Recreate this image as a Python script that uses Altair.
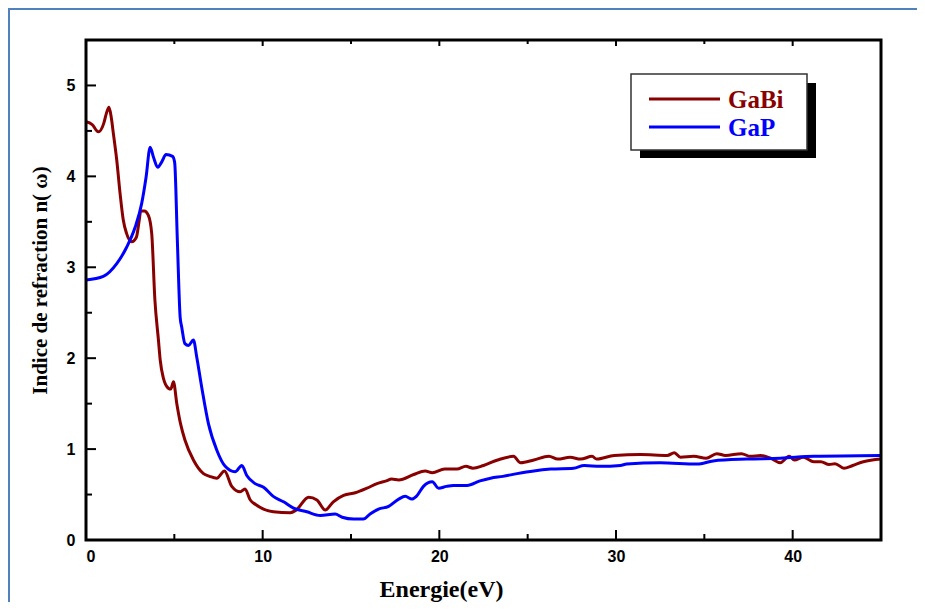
import altair as alt
import pandas as pd

# ---------------- data ----------------
series_names = ["GaBi", "GaP"]
series_colors = ["#880000", "#0000FF"]

gabi_e = [0, 0.35, 0.7, 1.0, 1.15, 1.3, 1.42, 1.55, 1.74, 1.93, 2.11, 2.3, 2.59, 2.85, 3.0, 3.1,
          3.3, 3.53, 3.72, 3.9, 4.1, 4.2, 4.38, 4.66, 4.8, 4.95, 5.14, 5.35, 5.6, 6.08, 6.65, 7.0,
          7.4, 7.84, 8.25, 8.73, 9.0, 9.3, 9.6, 10.05, 10.6, 11.56, 11.9, 12.6, 13.07, 13.54, 14.0,
          14.58, 15.24, 15.9, 16.47, 17.0, 17.3, 17.7, 18.55, 19.2, 19.6, 20.3, 21.0, 21.5, 21.9,
          22.5, 23.3, 24.2, 24.6, 25.35, 26.2, 26.7, 27.4, 28.0, 28.65, 28.9, 29.9, 31.4, 32.9,
          33.3, 33.65, 34.4, 35.1, 35.7, 36.2, 37.1, 37.6, 38.2, 38.75, 39.3, 39.8, 40.1, 40.6,
          41.2, 41.6, 42.06, 42.4, 42.9, 43.4, 44.0, 45.0]
gabi_n = [4.60, 4.57, 4.49, 4.58, 4.69, 4.76, 4.66, 4.47, 4.18, 3.81, 3.52, 3.37, 3.28, 3.33, 3.50, 3.62,
          3.62, 3.57, 3.37, 2.64, 2.20, 1.98, 1.78, 1.67, 1.66, 1.74, 1.50, 1.28, 1.10, 0.88, 0.73, 0.70,
          0.68, 0.76, 0.59, 0.53, 0.56, 0.44, 0.39, 0.34, 0.31, 0.30, 0.33, 0.47, 0.44, 0.33, 0.42,
          0.49, 0.52, 0.57, 0.62, 0.65, 0.67, 0.66, 0.72, 0.76, 0.74, 0.78, 0.78, 0.81, 0.79,
          0.82, 0.88, 0.92, 0.85, 0.88, 0.92, 0.89, 0.91, 0.89, 0.92, 0.89, 0.93, 0.94, 0.93,
          0.96, 0.91, 0.92, 0.90, 0.95, 0.93, 0.95, 0.92, 0.93, 0.90, 0.85, 0.92, 0.88, 0.91,
          0.86, 0.86, 0.83, 0.84, 0.79, 0.82, 0.86, 0.89]

gap_e = [0, 0.98, 1.74, 2.3, 2.78, 3.15, 3.4, 3.63, 3.82, 4.06, 4.29, 4.53, 4.9, 5.02, 5.17, 5.33,
         5.42, 5.6, 5.8, 6.08, 6.27, 6.55, 6.93, 7.4, 7.88, 8.44, 8.82, 9.1, 9.57, 10.05, 10.6,
         11.18, 11.75, 12.5, 13.26, 14.1, 14.5, 15.15, 15.7, 16.1, 16.56, 17.13, 17.7, 18.07,
         18.45, 18.7, 19.1, 19.6, 19.96, 20.4, 20.8, 21.57, 22.3, 22.9, 23.6, 24.4, 25.35, 26.3,
         27.6, 28.2, 29.1, 30.25, 30.6, 32.5, 34.6, 35.5, 37.4, 39.3, 41.2, 45.0]
gap_n = [2.86, 2.90, 3.04, 3.22, 3.44, 3.70, 3.99, 4.32, 4.21, 4.10, 4.16, 4.24, 4.22, 4.15, 3.30, 2.45,
         2.34, 2.16, 2.14, 2.20, 2.01, 1.68, 1.28, 0.99, 0.81, 0.75, 0.82, 0.71, 0.62, 0.58, 0.48,
         0.42, 0.35, 0.31, 0.27, 0.285, 0.25, 0.23, 0.23, 0.29, 0.34, 0.37, 0.45, 0.48,
         0.45, 0.48, 0.59, 0.64, 0.57, 0.59, 0.60, 0.60, 0.65, 0.68, 0.70, 0.73, 0.76, 0.78,
         0.79, 0.82, 0.81, 0.82, 0.835, 0.85, 0.835, 0.87, 0.89, 0.90, 0.92, 0.93]

x_major = [0, 10, 20, 30, 40]
x_minor = [5, 15, 25, 35]
y_major = [0, 1, 2, 3, 4, 5]
y_minor = [0.5, 1.5, 2.5, 3.5, 4.5]

x_title = "Energie(eV)"
y_title = "Indice de refraction n( \u03c9)"

# ---------------- build ----------------
W, H = 795, 500
df = pd.concat([
    pd.DataFrame({"E": gabi_e, "n": gabi_n, "s": "GaBi", "o": range(len(gabi_e))}),
    pd.DataFrame({"E": gap_e, "n": gap_n, "s": "GaP", "o": range(len(gap_e))}),
])

xs = alt.Scale(domain=[0, 45], nice=False, zero=False)
ys = alt.Scale(domain=[0, 5.5], nice=False)
cs = alt.Scale(domain=series_names, range=series_colors)

SANS = "Liberation Sans"
SERIF = "Liberation Serif"

x_axis = alt.Axis(
    values=x_major, title=x_title, titleFont=SERIF, titleFontSize=24, titleFontWeight="bold",
    titleColor="black", titleX=355, titleY=56, titleBaseline="alphabetic", titleAnchor="middle",
    labelFont=SANS, labelFontSize=16, labelFontWeight="bold", labelColor="black",
    labelPadding=8, ticks=False, domain=False, grid=False)
y_axis = alt.Axis(
    values=y_major, title=y_title, titleFont=SERIF, titleFontSize=21, titleFontWeight="bold",
    titleColor="black", titleX=-40, titleY=240, titleBaseline="alphabetic", titleAnchor="middle",
    labelFont=SANS, labelFontSize=16, labelFontWeight="bold", labelColor="black",
    labelPadding=11, ticks=False, domain=False, grid=False)

lines = alt.Chart(df).mark_line(strokeWidth=3, interpolate="monotone").encode(
    x=alt.X("E:Q", scale=xs, axis=x_axis, title=x_title),
    y=alt.Y("n:Q", scale=ys, axis=y_axis, title=y_title),
    color=alt.Color("s:N", scale=cs, legend=None),
    order="o:Q",
    detail="s:N",
)

def xticks(vals, length, top=False):
    d = pd.DataFrame({"E": vals})
    if top:
        y1, y2 = 0, length
    else:
        y1, y2 = H, H - length
    return alt.Chart(d).mark_rule(color="black", strokeWidth=2).encode(
        x=alt.X("E:Q", scale=xs, axis=x_axis, title=x_title), y=alt.value(y1), y2=alt.value(y2))

def yticks(vals, length):
    d = pd.DataFrame({"n": vals})
    return alt.Chart(d).mark_rule(color="black", strokeWidth=2).encode(
        y=alt.Y("n:Q", scale=ys, axis=y_axis, title=y_title), x=alt.value(0), x2=alt.value(length))

one = pd.DataFrame({"a": [0]})

border = alt.Chart(one).mark_rect(fillOpacity=0, stroke="#4F81BD", strokeWidth=2, clip=False).encode(
    x=alt.value(-77), x2=alt.value(860), y=alt.value(-31), y2=alt.value(620))

frame = alt.Chart(one).mark_rect(fillOpacity=0, stroke="black", strokeWidth=3).encode(
    x=alt.value(0), x2=alt.value(W), y=alt.value(0), y2=alt.value(H))

shadow = alt.Chart(one).mark_rect(fill="black").encode(
    x=alt.value(554), x2=alt.value(730), y=alt.value(43), y2=alt.value(118))
box = alt.Chart(one).mark_rect(fill="white", stroke="#333333", strokeWidth=1.5).encode(
    x=alt.value(545), x2=alt.value(721), y=alt.value(34), y2=alt.value(110))

leg_layers = []
for i, (name, col) in enumerate(zip(series_names, series_colors)):
    yy = 59 + 28 * i
    leg_layers.append(alt.Chart(one).mark_rule(color=col, strokeWidth=2.8).encode(
        x=alt.value(563), x2=alt.value(634), y=alt.value(yy)))
    leg_layers.append(alt.Chart(one).mark_text(
        text=name, color=col, font=SERIF, fontSize=25, fontWeight="bold",
        align="left", baseline="middle").encode(x=alt.value(642), y=alt.value(yy + 1)))

chart = alt.layer(
    lines, border,
    xticks(x_major, 10), xticks(x_minor, 6), xticks(x_major, 6, top=True), xticks(x_minor, 4, top=True),
    yticks(y_major, 10), yticks(y_minor, 6),
    frame, shadow, box, *leg_layers,
).properties(
    width=W, height=H,
    autosize=alt.AutoSizeParams(type="none"),
    padding={"left": 78, "top": 32, "right": 36, "bottom": 62},
).configure_view(stroke=None).configure(background="white")

chart.save("out.html", embed_options={"renderer": "svg", "actions": False})
